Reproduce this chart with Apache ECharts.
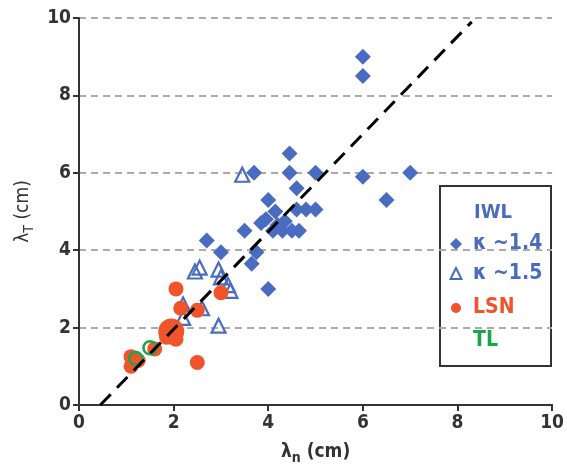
<!DOCTYPE html>
<html><head><meta charset="utf-8">
<script src="https://cdn.jsdelivr.net/npm/echarts@6/dist/echarts.min.js"></script>
<style>html,body{margin:0;padding:0;background:#fff}#c{width:567px;height:476px}</style>
</head><body><div id="c"></div>
<script>
// IWL, kappa ~1.4 (filled diamonds)
const iwlK14 = [[6.0,9.0],[6.0,8.5],[6.0,5.9],[7.0,6.0],[6.5,5.3],[5.0,6.0],[4.45,6.5],[4.45,6.0],[3.7,6.0],
  [4.6,5.6],[4.0,5.3],[4.6,5.05],[4.8,5.05],[5.0,5.05],[4.15,5.0],[3.95,4.8],[3.85,4.7],[4.2,4.65],[4.1,4.5],
  [4.3,4.5],[4.5,4.5],[4.65,4.5],[4.35,4.75],[3.5,4.5],[2.7,4.25],[3.0,3.95],[3.75,3.95],[3.65,3.65],[4.0,3.0]];
// IWL, kappa ~1.5 (open triangles)
const iwlK15 = [[3.45,5.95],[2.45,3.45],[2.55,3.55],[2.95,3.5],[3.0,3.3],[3.15,3.1],[3.2,2.95],
  [2.2,2.6],[2.6,2.5],[2.2,2.25],[2.95,2.05]];
// LSN (filled circles)
const lsn = [[2.05,3.0],[2.15,2.5],[2.5,2.45],[3.0,2.9],[1.85,1.75],[2.05,1.7],[1.6,1.45],
  [1.1,1.25],[1.1,1.0],[1.25,1.15],[2.5,1.1]];
const lsnBig = [[1.95,1.9]];
// TL (open circles)
const tl = [[1.2,1.2],[1.5,1.48]];
// trend line endpoints
const trend = [[0.45,0],[8.3,9.9]];
const xTicks = [0,2,4,6,8,10];
const yTicks = [0,2,4,6,8,10];

const BLUE = '#4a6cc0', RED = '#f1532b', GREEN = '#17a64b', INK = '#333';
const FONT = '"DejaVu Sans Condensed","Liberation Sans Narrow","Liberation Sans",Arial,sans-serif';

const chart = echarts.init(document.getElementById('c'));
chart.setOption({
  animation: false,
  grid: {left: 79, right: 14, top: 18, bottom: 71},
  xAxis: {
    type: 'value', min: 0, max: 10, interval: 2,
    axisLine: {lineStyle: {color: INK, width: 2}},
    axisTick: {show: true, length: 6, lineStyle: {color: INK, width: 2}},
    axisLabel: {color: INK, fontSize: 19, fontWeight: 'bold', fontFamily: FONT, margin: 9,
      formatter: v => xTicks.includes(v) ? String(v) : ''},
    splitLine: {show: false},
    name: '{l|λ}{s|n}{l| (cm)}', nameLocation: 'middle', nameGap: 34,
    nameTextStyle: {rich: {
      l: {fontSize: 19, fontWeight: 'bold', color: INK, fontFamily: FONT},
      s: {fontSize: 14, fontWeight: 'bold', color: INK, fontFamily: FONT, padding: [12,0,0,0]}
    }}
  },
  yAxis: {
    type: 'value', min: 0, max: 10, interval: 2,
    axisLine: {show: true, lineStyle: {color: INK, width: 2}},
    axisTick: {show: true, length: 6, lineStyle: {color: INK, width: 2}},
    axisLabel: {color: INK, fontSize: 19, fontWeight: 'bold', fontFamily: FONT, margin: 8,
      formatter: v => yTicks.includes(v) ? String(v) : ''},
    splitLine: {show: true, lineStyle: {color: '#aaa', width: 2, type: [7,5]}},
    name: '{l|λ}{s|T}{l| (cm)}', nameLocation: 'middle', nameGap: 38, nameRotate: 90,
    nameTextStyle: {rich: {
      l: {fontSize: 19, color: INK, fontFamily: FONT},
      s: {fontSize: 14, color: INK, fontFamily: FONT, padding: [12,0,0,0]}
    }}
  },
  series: [
    {type: 'scatter', data: iwlK14, symbol: 'diamond', symbolSize: 16, itemStyle: {color: BLUE, opacity: 1}, z: 3},
    {type: 'scatter', data: iwlK15, symbol: 'triangle', symbolSize: 14,
      itemStyle: {color: 'rgba(255,255,255,0)', borderColor: BLUE, borderWidth: 2.2, opacity: 1}, z: 4},
    {type: 'scatter', data: lsn, symbol: 'circle', symbolSize: 15, itemStyle: {color: RED, opacity: 1}, z: 5},
    {type: 'scatter', data: lsnBig, symbol: 'circle', symbolSize: 26, itemStyle: {color: RED, opacity: 1}, z: 5},
    {type: 'scatter', data: tl, symbol: 'circle', symbolSize: 13,
      itemStyle: {color: 'rgba(255,255,255,0)', borderColor: GREEN, borderWidth: 2.5, opacity: 1}, z: 6},
    {type: 'line', data: trend, symbol: 'none', lineStyle: {color: '#000', width: 3, type: [15,9]}, z: 7}
  ],
  graphic: [{
    type: 'group', left: 439, top: 185, z: 100,
    children: [
      {type: 'rect', shape: {x: 0, y: 0, width: 111, height: 180}, style: {fill: '#fff', stroke: INK, lineWidth: 2}},
      {type: 'text', x: 53, y: 27, style: {text: 'IWL', fill: BLUE, font: 'bold 20px ' + FONT, textAlign: 'center', textVerticalAlign: 'middle'}},
      {type: 'polygon', shape: {points: [[16,52],[22,58],[16,64],[10,58]]}, style: {fill: BLUE}},
      {type: 'text', x: 33, y: 58, style: {text: 'κ ~1.4', fill: BLUE, font: 'bold 21px ' + FONT, textVerticalAlign: 'middle'}},
      {type: 'polygon', shape: {points: [[16,82],[21.5,93],[10.5,93]]}, style: {fill: 'none', stroke: BLUE, lineWidth: 2}},
      {type: 'text', x: 33, y: 88, style: {text: 'κ ~1.5', fill: BLUE, font: 'bold 21px ' + FONT, textVerticalAlign: 'middle'}},
      {type: 'circle', shape: {cx: 16, cy: 122, r: 5}, style: {fill: RED}},
      {type: 'text', x: 33, y: 122, style: {text: 'LSN', fill: RED, font: 'bold 21px ' + FONT, textVerticalAlign: 'middle'}},
      {type: 'text', x: 33, y: 155, style: {text: 'TL', fill: GREEN, font: 'bold 21px ' + FONT, textVerticalAlign: 'middle'}}
    ]
  }]
});
</script></body></html>
